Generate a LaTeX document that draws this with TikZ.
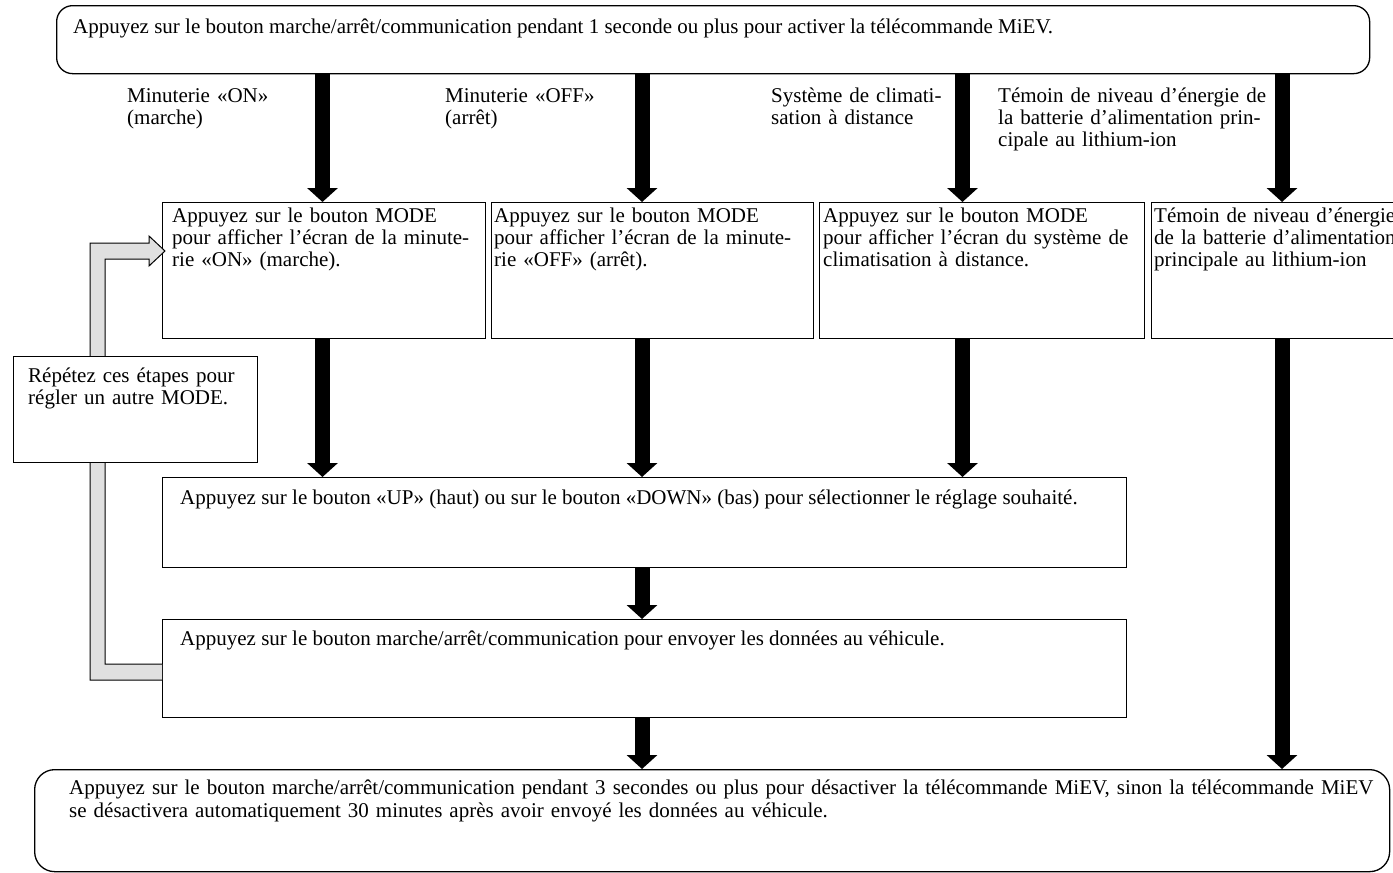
\documentclass[tikz,border=0pt]{standalone}
\usepackage{fontspec}
\setmainfont{Liberation Serif}
\usetikzlibrary{arrows.meta}
\begin{document}
\begin{tikzpicture}[x=1pt,y=-1pt,
  every node/.style={font=\fontsize{21}{22}\selectfont, inner sep=0pt},
  box/.style={draw, line width=1.3pt, fill=white, anchor=north west, inner sep=0pt},
  rbox/.style={box, rounded corners=#1},
  txt/.style={anchor=base west, align=left},
  mtxt/.style={anchor=base west, align=left, text width=#1},
  bigarrow/.style={line width=15pt, -{Triangle[width=30pt,length=14pt]}},
  loopband/.style={draw=black, line width=1pt, fill=black!12}
]
\useasboundingbox (0,0) rectangle (1393,873);
\clip (0,0) rectangle (1393,873);

% column coordinates for the arrows
\coordinate (c1) at (322.5,0);
\coordinate (c2) at (642,0);
\coordinate (c3) at (962.5,0);
\coordinate (c4) at (1282,0);

% boxes
\node[rbox=16pt, minimum width=1313pt, minimum height=68pt] (top) at (56,5) {};
\node[box, minimum width=323pt, minimum height=136pt] (b1) at (162,202) {};
\node[box, minimum width=322pt, minimum height=136pt] (b2) at (491,202) {};
\node[box, minimum width=325pt, minimum height=136pt] (b3) at (819,202) {};
\node[box, minimum width=300pt, minimum height=136pt] (b4) at (1151,202) {};
\node[box, minimum width=964pt, minimum height=90pt] (r3) at (162,477) {};
\node[box, minimum width=964pt, minimum height=98pt] (r4) at (162,619) {};
\node[rbox=20pt, minimum width=1355pt, minimum height=102pt] (bot) at (34,769) {};

% arrows
\draw[bigarrow] (top.south -| c1) -- (b1.north -| c1);
\draw[bigarrow] (top.south -| c2) -- (b2.north -| c2);
\draw[bigarrow] (top.south -| c3) -- (b3.north -| c3);
\draw[bigarrow] (top.south -| c4) -- (b4.north -| c4);
\draw[bigarrow] (b1.south -| c1) -- (r3.north -| c1);
\draw[bigarrow] (b2.south -| c2) -- (r3.north -| c2);
\draw[bigarrow] (b3.south -| c3) -- (r3.north -| c3);
\draw[bigarrow] (b4.south -| c4) -- (bot.north -| c4);
\draw[bigarrow] (r3.south -| c2) -- (r4.north -| c2);
\draw[bigarrow] (r4.south -| c2) -- (bot.north -| c2);

% loop-back block arrow
\path[loopband] (162,680) -- (90,680) -- (90,243) -- (149,243) -- (149,236)
  -- (165,251) -- (149,266) -- (149,259) -- (105,259) -- (105,664) -- (162,664);
\node[box, minimum width=244pt, minimum height=106pt] (rep) at (13,356) {};

% texts
\node[txt] (ttop) at (73,33) {Appuyez sur le bouton marche/arrêt/communication pendant 1 seconde ou plus pour activer la télécommande MiEV.};
\node[mtxt=300pt] (l1) at (127,102) {Minuterie «ON»\\(marche)};
\node[mtxt=300pt] (l2) at (445,102) {Minuterie «OFF»\\(arrêt)};
\node[mtxt=300pt] (l3) at (771,102) {Système de climati-\\sation à distance};
\node[mtxt=300pt] (l4) at (998,102) {Témoin de niveau d’énergie de\\la batterie d’alimentation prin-\\cipale au lithium-ion};
\node[mtxt=330pt] (tb1) at (172,222) {Appuyez sur le bouton MODE\\pour afficher l’écran de la minute-\\rie «ON» (marche).};
\node[mtxt=330pt] (tb2) at (494,222) {Appuyez sur le bouton MODE\\pour afficher l’écran de la minute-\\rie «OFF» (arrêt).};
\node[mtxt=330pt] (tb3) at (823,222) {Appuyez sur le bouton MODE\\pour afficher l’écran du système de\\climatisation à distance.};
\node[mtxt=330pt] (tb4) at (1154,222) {Témoin de niveau d’énergie\\de la batterie d’alimentation\\principale au lithium-ion};
\node[txt] (tr3) at (180,504) {Appuyez sur le bouton «UP» (haut) ou sur le bouton «DOWN» (bas) pour sélectionner le réglage souhaité.};
\node[txt] (tr4) at (180,645) {Appuyez sur le bouton marche/arrêt/communication pour envoyer les données au véhicule.};
\node[mtxt=1340pt, font=\fontsize{21}{23.5}\selectfont] (tbot) at (69,794) {Appuyez sur le bouton marche/arrêt/communication pendant 3 secondes ou plus pour désactiver la télécommande MiEV, sinon la télécommande MiEV\\se désactivera automatiquement 30 minutes après avoir envoyé les données au véhicule.};
\node[mtxt=240pt] (trep) at (28,382) {Répétez ces étapes pour\\régler un autre MODE.};
\end{tikzpicture}
\end{document}
